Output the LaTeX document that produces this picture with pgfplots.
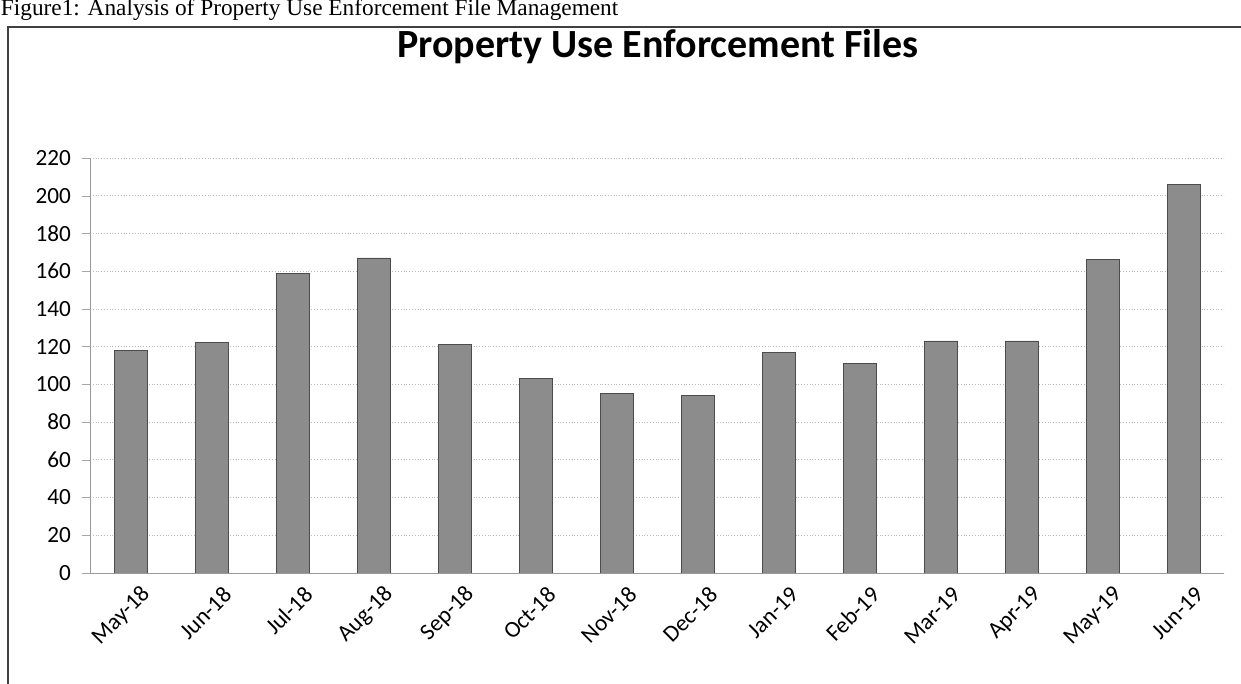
\documentclass[border=0pt]{standalone}
\usepackage{pgfplots}
\pgfplotsset{compat=1.18}
\usepackage{fontspec}
\setmainfont{Carlito}
\newfontfamily\timesfont{Liberation Serif}
\begin{document}
\begin{tikzpicture}
\useasboundingbox (0pt,0pt) rectangle (620.5pt,342pt);
% caption (partly cut at top)
\node[anchor=base west,inner sep=0pt,font=\timesfont\fontsize{11.65}{14}\selectfont] at (0.3pt,334pt) {Figure1: Analysis of Property Use Enforcement File Management};
% frame
\draw[black!75,line width=1pt] (4pt,0pt) -- (4pt,328.5pt) -- (623pt,328.5pt);
% title
\node[anchor=base,inner sep=0pt,font=\bfseries\fontsize{20}{24}\selectfont] at (329pt,313pt) {Property Use Enforcement Files};
\begin{axis}[
  at={(45pt,55.5pt)}, anchor=south west,
  scale only axis, width=567pt, height=207.5pt,
  xmin=-0.5, xmax=13.5, ymin=0, ymax=220,
  ytick={0,20,...,220},
  xtick={0,...,13},
  xticklabels={May-18,Jun-18,Jul-18,Aug-18,Sep-18,Oct-18,Nov-18,Dec-18,Jan-19,Feb-19,Mar-19,Apr-19,May-19,Jun-19},
  x tick style={draw=none},
  extra x ticks={-0.5,0.5,...,13.5},
  extra x tick labels={},
  extra x tick style={grid=none, tick style={draw=gray!80}},
  major tick length=4pt,
  tick align=outside,
  y tick style={draw=gray!70},
  axis x line*=bottom, axis y line*=left,
  axis line style={gray!80, -},
  ymajorgrids, major grid style={densely dotted, gray!55},
  /pgf/number format/assume math mode=true,
  tick label style={font=\fontsize{11.6}{14}\selectfont},
  yticklabel style={xshift=-2pt},
  xticklabel style={xshift=10.5pt, yshift=-2.5pt, rotate=45, anchor=east},
  ybar, bar width=16.5pt,
]
\addplot[fill=black!45, draw=black!70] coordinates {
(0,118) (1,122) (2,159) (3,167) (4,121) (5,103) (6,95) (7,94)
(8,117) (9,111) (10,123) (11,123) (12,166) (13,206)};
\end{axis}
\end{tikzpicture}
\end{document}
